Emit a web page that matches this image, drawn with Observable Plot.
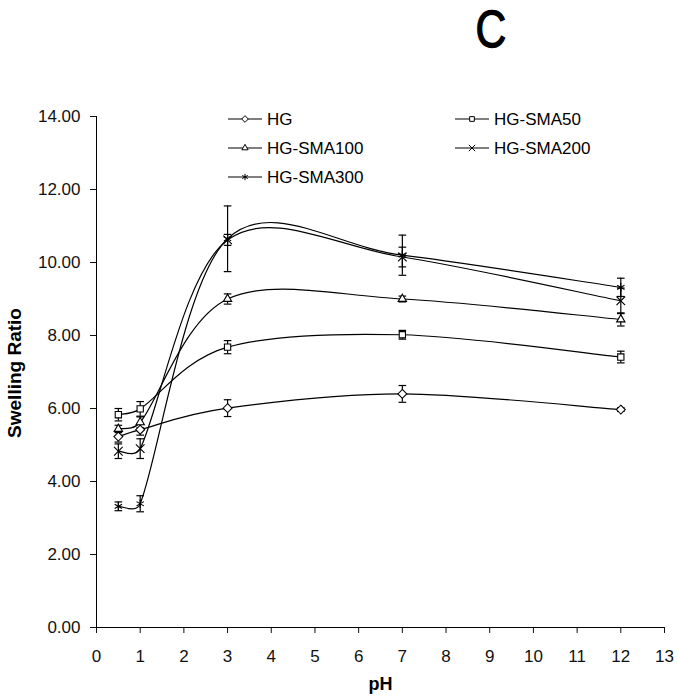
<!DOCTYPE html>
<html><head><meta charset="utf-8">
<script src="https://cdn.jsdelivr.net/npm/d3@7"></script>
<script src="https://cdn.jsdelivr.net/npm/@observablehq/plot@0.6"></script>
<style>
body{margin:0;background:#fff;}
#wrap{width:678px;height:699px;}
</style></head><body><div id="wrap"></div>
<script>
// ---- data ----
const pH = [0.5, 1, 3, 7, 12];
const seriesNames = ["HG", "HG-SMA50", "HG-SMA100", "HG-SMA200", "HG-SMA300"];
const hgValues      = [5.23, 5.42, 6.01, 6.40, 5.97];
const hgErrors      = [0.15, 0.15, 0.23, 0.23, 0.05];
const sma50Values   = [5.83, 5.99, 7.68, 8.02, 7.41];
const sma50Errors   = [0.17, 0.20, 0.18, 0.12, 0.16];
const sma100Values  = [5.44, 5.62, 9.00, 9.00, 8.44];
const sma100Errors  = [0.10, 0.15, 0.14, 0.08, 0.18];
const sma200Values  = [4.83, 4.90, 10.62, 10.15, 8.95];
const sma200Errors  = [0.20, 0.27, 0.15, 0.27, 0.35];
const sma300Values  = [3.32, 3.39, 10.65, 10.20, 9.32];
const sma300Errors  = [0.12, 0.22, 0.90, 0.55, 0.25];
const xTicks = [0,1,2,3,4,5,6,7,8,9,10,11,12,13];
const yTicks = [0,2,4,6,8,10,12,14];
const seriesSymbols = ["diamond2", "square2", "triangle2", "times", "asterisk"];
const panelTitle = "C";

const valueLists = [hgValues, sma50Values, sma100Values, sma200Values, sma300Values];
const errorLists = [hgErrors, sma50Errors, sma100Errors, sma200Errors, sma300Errors];
const rows = [];
seriesNames.forEach((s, i) => pH.forEach((p, j) => rows.push({series: s, pH: p, value: valueLists[i][j], err: errorLists[i][j]})));

// Excel-style smoothed line: Bezier with 1/6 tangents, control arms limited to half the segment
function excelSmooth(context) {
  let pts;
  const dist = (a, b) => Math.hypot(b[0] - a[0], b[1] - a[1]);
  return {
    areaStart() {}, areaEnd() {},
    lineStart() { pts = []; },
    point(x, y) { pts.push([+x, +y]); },
    lineEnd() {
      const n = pts.length;
      if (!n) return;
      context.moveTo(pts[0][0], pts[0][1]);
      for (let i = 0; i < n - 1; i++) {
        const p0 = pts[Math.max(i - 1, 0)], p1 = pts[i], p2 = pts[i + 1], p3 = pts[Math.min(i + 2, n - 1)];
        const d12 = dist(p1, p2), d02 = dist(p0, p2), d13 = dist(p1, p3);
        const fa = d02 / 6 < d12 / 2 ? 1 / 6 : d12 / (2 * d02);
        const fb = d13 / 6 < d12 / 2 ? 1 / 6 : d12 / (2 * d13);
        context.bezierCurveTo(
          p1[0] + fa * (p2[0] - p0[0]), p1[1] + fa * (p2[1] - p0[1]),
          p2[0] - fb * (p3[0] - p1[0]), p2[1] - fb * (p3[1] - p1[1]),
          p2[0], p2[1]);
      }
    }
  };
}

const capSymbol = {draw(ctx, size) { const w = Math.sqrt(size / Math.PI); ctx.moveTo(-w, 0); ctx.lineTo(w, 0); }};
const FONT = "'Liberation Sans', Arial, sans-serif";

const plot = Plot.plot({
  width: 678, height: 699,
  marginTop: 116, marginBottom: 72, marginLeft: 96, marginRight: 14,
  style: {fontFamily: FONT, fontSize: "17px", color: "#111", background: "#fff"},
  x: {domain: [0, 13], ticks: xTicks, tickFormat: d => String(d), tickSize: 6, tickPadding: 16, label: null},
  y: {domain: [0, 14], ticks: yTicks, tickFormat: d3.format(".2f"), tickSize: 6, tickPadding: 10, label: null},
  symbol: {domain: seriesNames, range: seriesSymbols},
  marks: [
    Plot.ruleX([0], {stroke: "#000"}),
    Plot.ruleY([0], {stroke: "#000"}),
    Plot.line(rows, {x: "pH", y: "value", z: "series", curve: excelSmooth, stroke: "#000", strokeWidth: 1.2}),
    Plot.ruleX(rows, {x: "pH", y1: d => d.value - d.err, y2: d => d.value + d.err, stroke: "#000", strokeWidth: 1.2}),
    Plot.dot(rows, {x: "pH", y: d => d.value + d.err, symbol: () => capSymbol, r: 3.8, stroke: "#000", fill: "none", strokeWidth: 1.2}),
    Plot.dot(rows, {x: "pH", y: d => d.value - d.err, symbol: () => capSymbol, r: 3.8, stroke: "#000", fill: "none", strokeWidth: 1.2}),
    Plot.dot(rows, {x: "pH", y: "value", symbol: "series", r: 4, stroke: "#000", fill: "#fff", strokeWidth: 1.1}),
    Plot.text(["pH"], {text: d => d, frameAnchor: "bottom", lineAnchor: "middle", textAnchor: "middle", dy: 57, fontSize: 18, fontWeight: "bold", fill: "#000"}),
    Plot.text(["Swelling Ratio"], {text: d => d, frameAnchor: "left", lineAnchor: "middle", textAnchor: "middle", dx: -82, dy: 1, rotate: -90, fontSize: 19, fontWeight: "bold", fill: "#000"})
  ]
});

const svg = d3.select(plot);

// ---- panel letter (narrow, upper right of centre) ----
svg.append("text")
  .attr("transform", "translate(491,47) scale(0.82,1)")
  .attr("text-anchor", "middle")
  .attr("font-family", FONT).attr("font-size", 52).attr("fill", "#000")
  .attr("stroke", "#000").attr("stroke-width", 1.3)
  .text(panelTitle);

// ---- legend (inside plot area) ----
const legendCols = [228, 455];
const legendRows = [119, 148, 177];
const symMap = {diamond2: d3.symbolDiamond2, square2: d3.symbolSquare2, triangle2: d3.symbolTriangle2, times: d3.symbolTimes, asterisk: d3.symbolAsterisk};
const lg = svg.append("g").attr("font-family", FONT).attr("font-size", 17).attr("text-anchor", "start");
seriesNames.forEach((name, i) => {
  const x0 = legendCols[i % 2], y0 = legendRows[Math.floor(i / 2)];
  const g = lg.append("g").attr("transform", `translate(${x0},${y0})`);
  g.append("line").attr("x1", 0).attr("x2", 34).attr("y1", 0).attr("y2", 0).attr("stroke", "#000").attr("stroke-width", 1.2);
  g.append("path").attr("transform", "translate(17,0)").attr("d", d3.symbol(symMap[seriesSymbols[i]], 28)()).attr("fill", "#fff").attr("stroke", "#000").attr("stroke-width", 1);
  g.append("text").attr("x", 39).attr("y", 0).attr("dy", "0.35em").attr("text-anchor", "start").attr("fill", "#000").text(name);
});

document.getElementById("wrap").appendChild(plot);
</script></body></html>
